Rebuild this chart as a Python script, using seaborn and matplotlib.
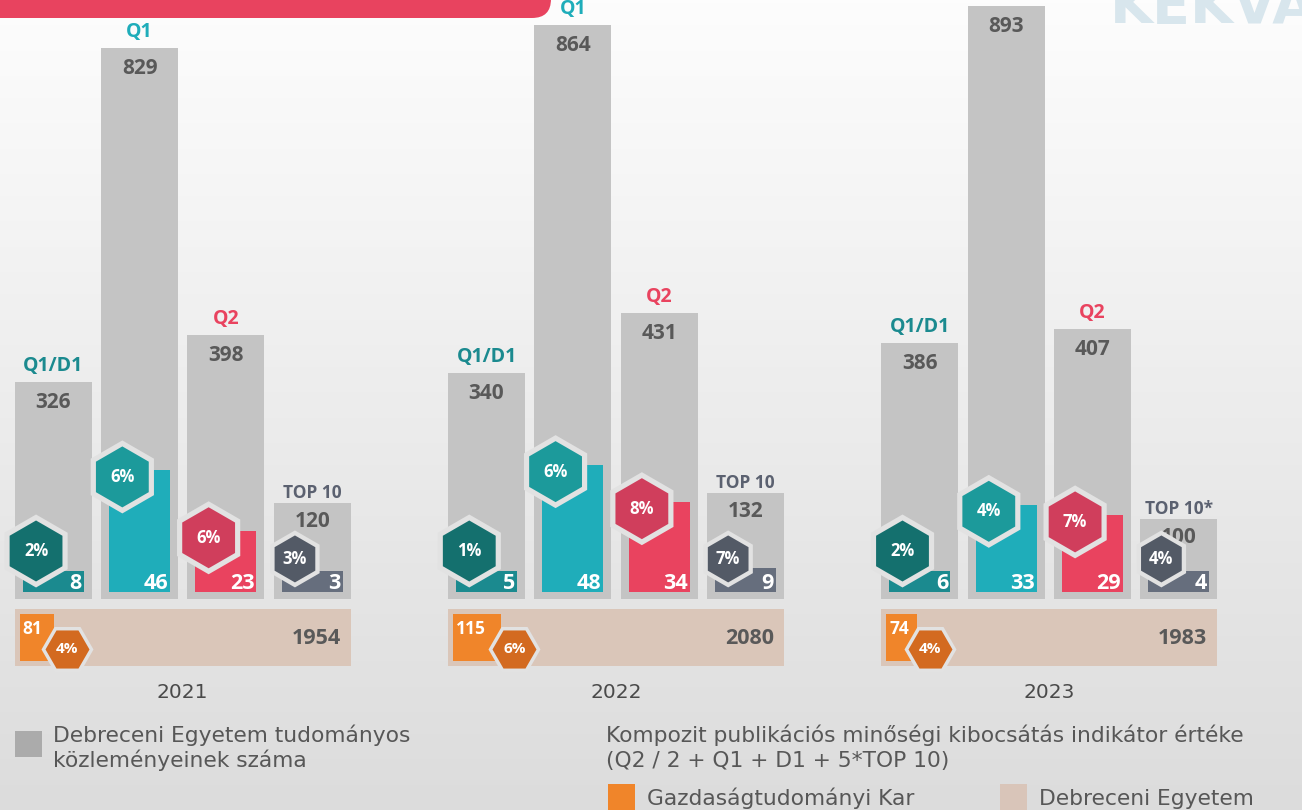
import numpy as np
import pandas as pd
import seaborn as sns
import matplotlib.pyplot as plt
from matplotlib.patches import Rectangle, FancyBboxPatch
from matplotlib.colors import LinearSegmentedColormap

years = ['2021', '2022', '2023']
categories = ['Q1/D1', 'Q1', 'Q2', 'TOP 10']
top10_names = ['TOP 10', 'TOP 10', 'TOP 10*']

# Debreceni Egyetem publications (grey bars)
de_q1d1 = [326, 340, 386]
de_q1 = [829, 864, 893]
de_q2 = [398, 431, 407]
de_top10 = [120, 132, 100]

# Gazdasagtudomanyi Kar publications (coloured bars)
gtk_q1d1 = [8, 5, 6]
gtk_q1 = [46, 48, 33]
gtk_q2 = [23, 34, 29]
gtk_top10 = [3, 9, 4]

# GTK share of the DE numbers
share_q1d1 = ['2%', '1%', '2%']
share_q1 = ['6%', '6%', '4%']
share_q2 = ['6%', '8%', '7%']
share_top10 = ['3%', '7%', '4%']

# composite indicator
komp_gtk = [81, 115, 74]
komp_de = [1954, 2080, 1983]
komp_share = ['4%', '6%', '4%']

bar_colors = {'Q1/D1': '#1b8a8f', 'Q1': '#1fadba', 'Q2': '#e9435f', 'TOP 10': '#666e7d'}
hex_colors = {'Q1/D1': '#14706e', 'Q1': '#1c9a9b', 'Q2': '#d03e5c', 'TOP 10': '#535a66'}
label_colors = {'Q1/D1': '#1b8a8f', 'Q1': '#1fadba', 'Q2': '#e9435f', 'TOP 10': '#5b6170'}
GREY = '#c4c4c4'
BEIGE = '#dac6b9'
ORANGE = '#f0852a'
ORANGE_HEX = '#d36a20'
HEX_RIM = '#e2e2e2'
NUM_COLOR = '#595959'
TEXT_COLOR = '#575757'

# layout (pixels of the 1302x810 canvas)
W, H = 1302, 810
PX_UNIT = 86.3
X0_PX = 53.3
GROUP_STEP = 5.02
BAR_W = 0.892
INNER_W = 0.707
BASE_PX = 599
OUTER_SCALE = 1.505   # publications per pixel, Q1/D1, Q1, Q2
TOP10_SCALE = 1.245   # TOP 10 bars use their own axis in the original
INNER_SCALE = 0.378
INNER_LIFT = 7
ORANGE_SCALE = 0.42

de_all = [de_q1d1, de_q1, de_q2, de_top10]
gtk_all = [gtk_q1d1, gtk_q1, gtk_q2, gtk_top10]
share_all = [share_q1d1, share_q1, share_q2, share_top10]

rows = []
for g, year in enumerate(years):
    for k, cat in enumerate(categories):
        rows.append({
            'year': year,
            'cat': cat,
            'label': top10_names[g] if cat == 'TOP 10' else cat,
            'pos': k + GROUP_STEP * g,
            'de': de_all[k][g],
            'gtk': gtk_all[k][g],
            'share': share_all[k][g],
        })
df = pd.DataFrame(rows)
# tiny values get a minimum visible height, as in the infographic
df['gtk_shown'] = np.maximum(df['gtk'], 8)
is_top = (df['cat'] == 'TOP 10').to_numpy()

sns.set_style('white')
plt.rcParams['font.family'] = ['Open Sans', 'DejaVu Sans']


def fig_rect(x0, y0, x1, y1):
    return [x0 / W, 1 - y1 / H, (x1 - x0) / W, (y1 - y0) / H]


fig = plt.figure(figsize=(W / 100, H / 100), dpi=100)

# background gradient
bg = fig.add_axes([0, 0, 1, 1], zorder=-10)
cmap = LinearSegmentedColormap.from_list('bg', ['#fdfdfd', '#dcdcdc'])
bg.imshow(np.linspace(0, 1, 256).reshape(-1, 1), aspect='auto', cmap=cmap,
          extent=[0, 1, 0, 1], origin='upper')
bg.axis('off')

# red banner and watermark
fig.add_artist(FancyBboxPatch((-0.5, (H - 18) / 100), 5.51 + 0.5, 1.0,
                              boxstyle='round,pad=0,rounding_size=0.19',
                              transform=fig.dpi_scale_trans,
                              facecolor='#e8435f', edgecolor='none'))
fig.text(1110 / W, 1 - 23 / H, 'KEKVA', fontsize=40, fontweight='black',
         color='#d8e6ed', ha='left', va='baseline', family='DejaVu Sans')

xlim = (-X0_PX / PX_UNIT, (W - X0_PX) / PX_UNIT)

# grey bars: Debreceni Egyetem (Q1/D1, Q1, Q2)
main = df[~is_top]
ax = fig.add_axes(fig_rect(0, 0, W, BASE_PX), facecolor='none', label='outer')
sns.barplot(data=main, x='pos', y='de', native_scale=True, width=BAR_W,
            color=GREY, errorbar=None, linewidth=0, saturation=1, ax=ax)
ax.set_xlim(xlim)
ax.set_ylim(0, BASE_PX * OUTER_SCALE)
ax.axis('off')

# grey bars: TOP 10 on its own scale
top = df[is_top]
axt = fig.add_axes(fig_rect(0, 0, W, BASE_PX), facecolor='none', label='top10')
axt.bar(top['pos'], top['de'], width=BAR_W, color=GREY, linewidth=0)
axt.set_xlim(xlim)
axt.set_ylim(0, BASE_PX * TOP10_SCALE)
axt.axis('off')

for sub, a, lab_off, num_off, lab_size in [(main, ax, 11, -26, 14),
                                           (top, axt, 5, -24, 12.5)]:
    for _, r in sub.iterrows():
        a.annotate(r['label'], (r['pos'], r['de']), xytext=(0, lab_off),
                   textcoords='offset pixels', ha='center', va='baseline',
                   fontsize=lab_size, fontweight='bold',
                   color=label_colors[r['cat']])
        a.annotate(str(r['de']), (r['pos'], r['de']), xytext=(0, num_off),
                   textcoords='offset pixels', ha='center', va='baseline',
                   fontsize=15, fontweight='bold', color=NUM_COLOR)

# coloured bars: Gazdasagtudomanyi Kar
ax2 = fig.add_axes(fig_rect(0, 0, W, BASE_PX), facecolor='none', label='inner')
sns.barplot(data=df, x='pos', y='gtk_shown', hue='cat', hue_order=categories,
            palette=bar_colors, native_scale=True, width=INNER_W, dodge=False,
            errorbar=None, linewidth=0, saturation=1, legend=False, ax=ax2)
ax2.set_xlim(xlim)
ax2.set_ylim(-INNER_LIFT * INNER_SCALE, (BASE_PX - INNER_LIFT) * INNER_SCALE)
ax2.axis('off')

hex_x = df['pos'] - 0.2
hex_y = np.where(is_top, np.maximum(df['gtk_shown'] - 2.5, 12.5),
                 np.maximum(df['gtk_shown'] - 2.5, 15.5))
rim_s = np.where(is_top, 1684, 2763)
core_s = np.where(is_top, 1145, 1929)
ax2.scatter(hex_x, hex_y, marker='h', s=rim_s, color=HEX_RIM, linewidths=0,
            clip_on=False, zorder=5)
ax2.scatter(hex_x, hex_y, marker='h', s=core_s, c=[hex_colors[c] for c in df['cat']],
            linewidths=0, clip_on=False, zorder=6)

for (_, r), hx, hy in zip(df.iterrows(), hex_x, hex_y):
    ax2.text(hx, hy, r['share'], ha='center', va='center', fontsize=12,
             fontweight='bold', color='white', zorder=7)
    ax2.annotate(str(r['gtk']), (r['pos'] + INNER_W / 2, 0), xytext=(-2, 3),
                 textcoords='offset pixels', ha='right', va='baseline',
                 fontsize=15.5, fontweight='bold', color='white', zorder=4)

# composite indicator strips
for g, year in enumerate(years):
    left_px = X0_PX + (GROUP_STEP * g - BAR_W / 2) * PX_UNIT
    right_px = X0_PX + (GROUP_STEP * g + 3 + BAR_W / 2) * PX_UNIT
    hax = fig.add_axes(fig_rect(left_px, 609, right_px, 665.5), facecolor='none')
    hax.barh([0], [komp_de[g]], height=1, color=BEIGE, linewidth=0)
    hax.set_xlim(0, komp_de[g])
    hax.set_ylim(-0.5, 0.5)
    hax.axis('off')
    hax.annotate(str(komp_de[g]), (komp_de[g], 0), xytext=(-10, -7),
                 textcoords='offset pixels', ha='right', va='baseline',
                 fontsize=15.5, fontweight='bold', color=NUM_COLOR)
    hax.annotate(year, (0.5, 0), xycoords='axes fraction', xytext=(0, -32),
                 textcoords='offset pixels', ha='center', va='baseline',
                 fontsize=14.5, color='#4a4a4a', family='DejaVu Sans')

    tw = hax.twiny()
    width_px = right_px - left_px
    tw.barh([0], [komp_gtk[g]], height=0.83, color=ORANGE, linewidth=0)
    tw.set_xlim(-5 / ORANGE_SCALE, (width_px - 5) / ORANGE_SCALE)
    tw.axis('off')
    tw.annotate(str(komp_gtk[g]), (0, 0.415), xytext=(3, -20),
                textcoords='offset pixels', ha='left', va='baseline',
                fontsize=12.5, fontweight='bold', color='white')
    ox = komp_gtk[g] + 13 / ORANGE_SCALE
    tw.scatter([ox], [-0.2], marker='H', s=1401, color=HEX_RIM, linewidths=0,
               clip_on=False, zorder=5)
    tw.scatter([ox], [-0.2], marker='H', s=1003, color=ORANGE_HEX, linewidths=0,
               clip_on=False, zorder=6)
    tw.text(ox, -0.2, komp_share[g], ha='center', va='center', fontsize=11,
            fontweight='bold', color='white', zorder=7)


# legend
def swatch(x0, y0, x1, y1, color):
    fig.add_artist(Rectangle((x0 / W, 1 - y1 / H), (x1 - x0) / W, (y1 - y0) / H,
                             transform=fig.transFigure, facecolor=color,
                             edgecolor='none'))


def legend_text(x, y, s):
    fig.text(x / W, 1 - y / H, s, ha='left', va='baseline', fontsize=15.7,
             color=TEXT_COLOR, family='DejaVu Sans')


swatch(15, 731, 42, 757, '#ababab')
legend_text(53, 742, 'Debreceni Egyetem tudományos')
legend_text(53, 767, 'közleményeinek száma')
legend_text(606, 742, 'Kompozit publikációs minőségi kibocsátás indikátor értéke')
legend_text(606, 767, '(Q2 / 2 + Q1 + D1 + 5*TOP 10)')
swatch(608, 784, 635, 815, ORANGE)
legend_text(647, 805, 'Gazdaságtudományi Kar')
swatch(1000, 784, 1027, 815, '#d9c5b9')
legend_text(1039, 805, 'Debreceni Egyetem')

fig.savefig('out.png', dpi=100)
